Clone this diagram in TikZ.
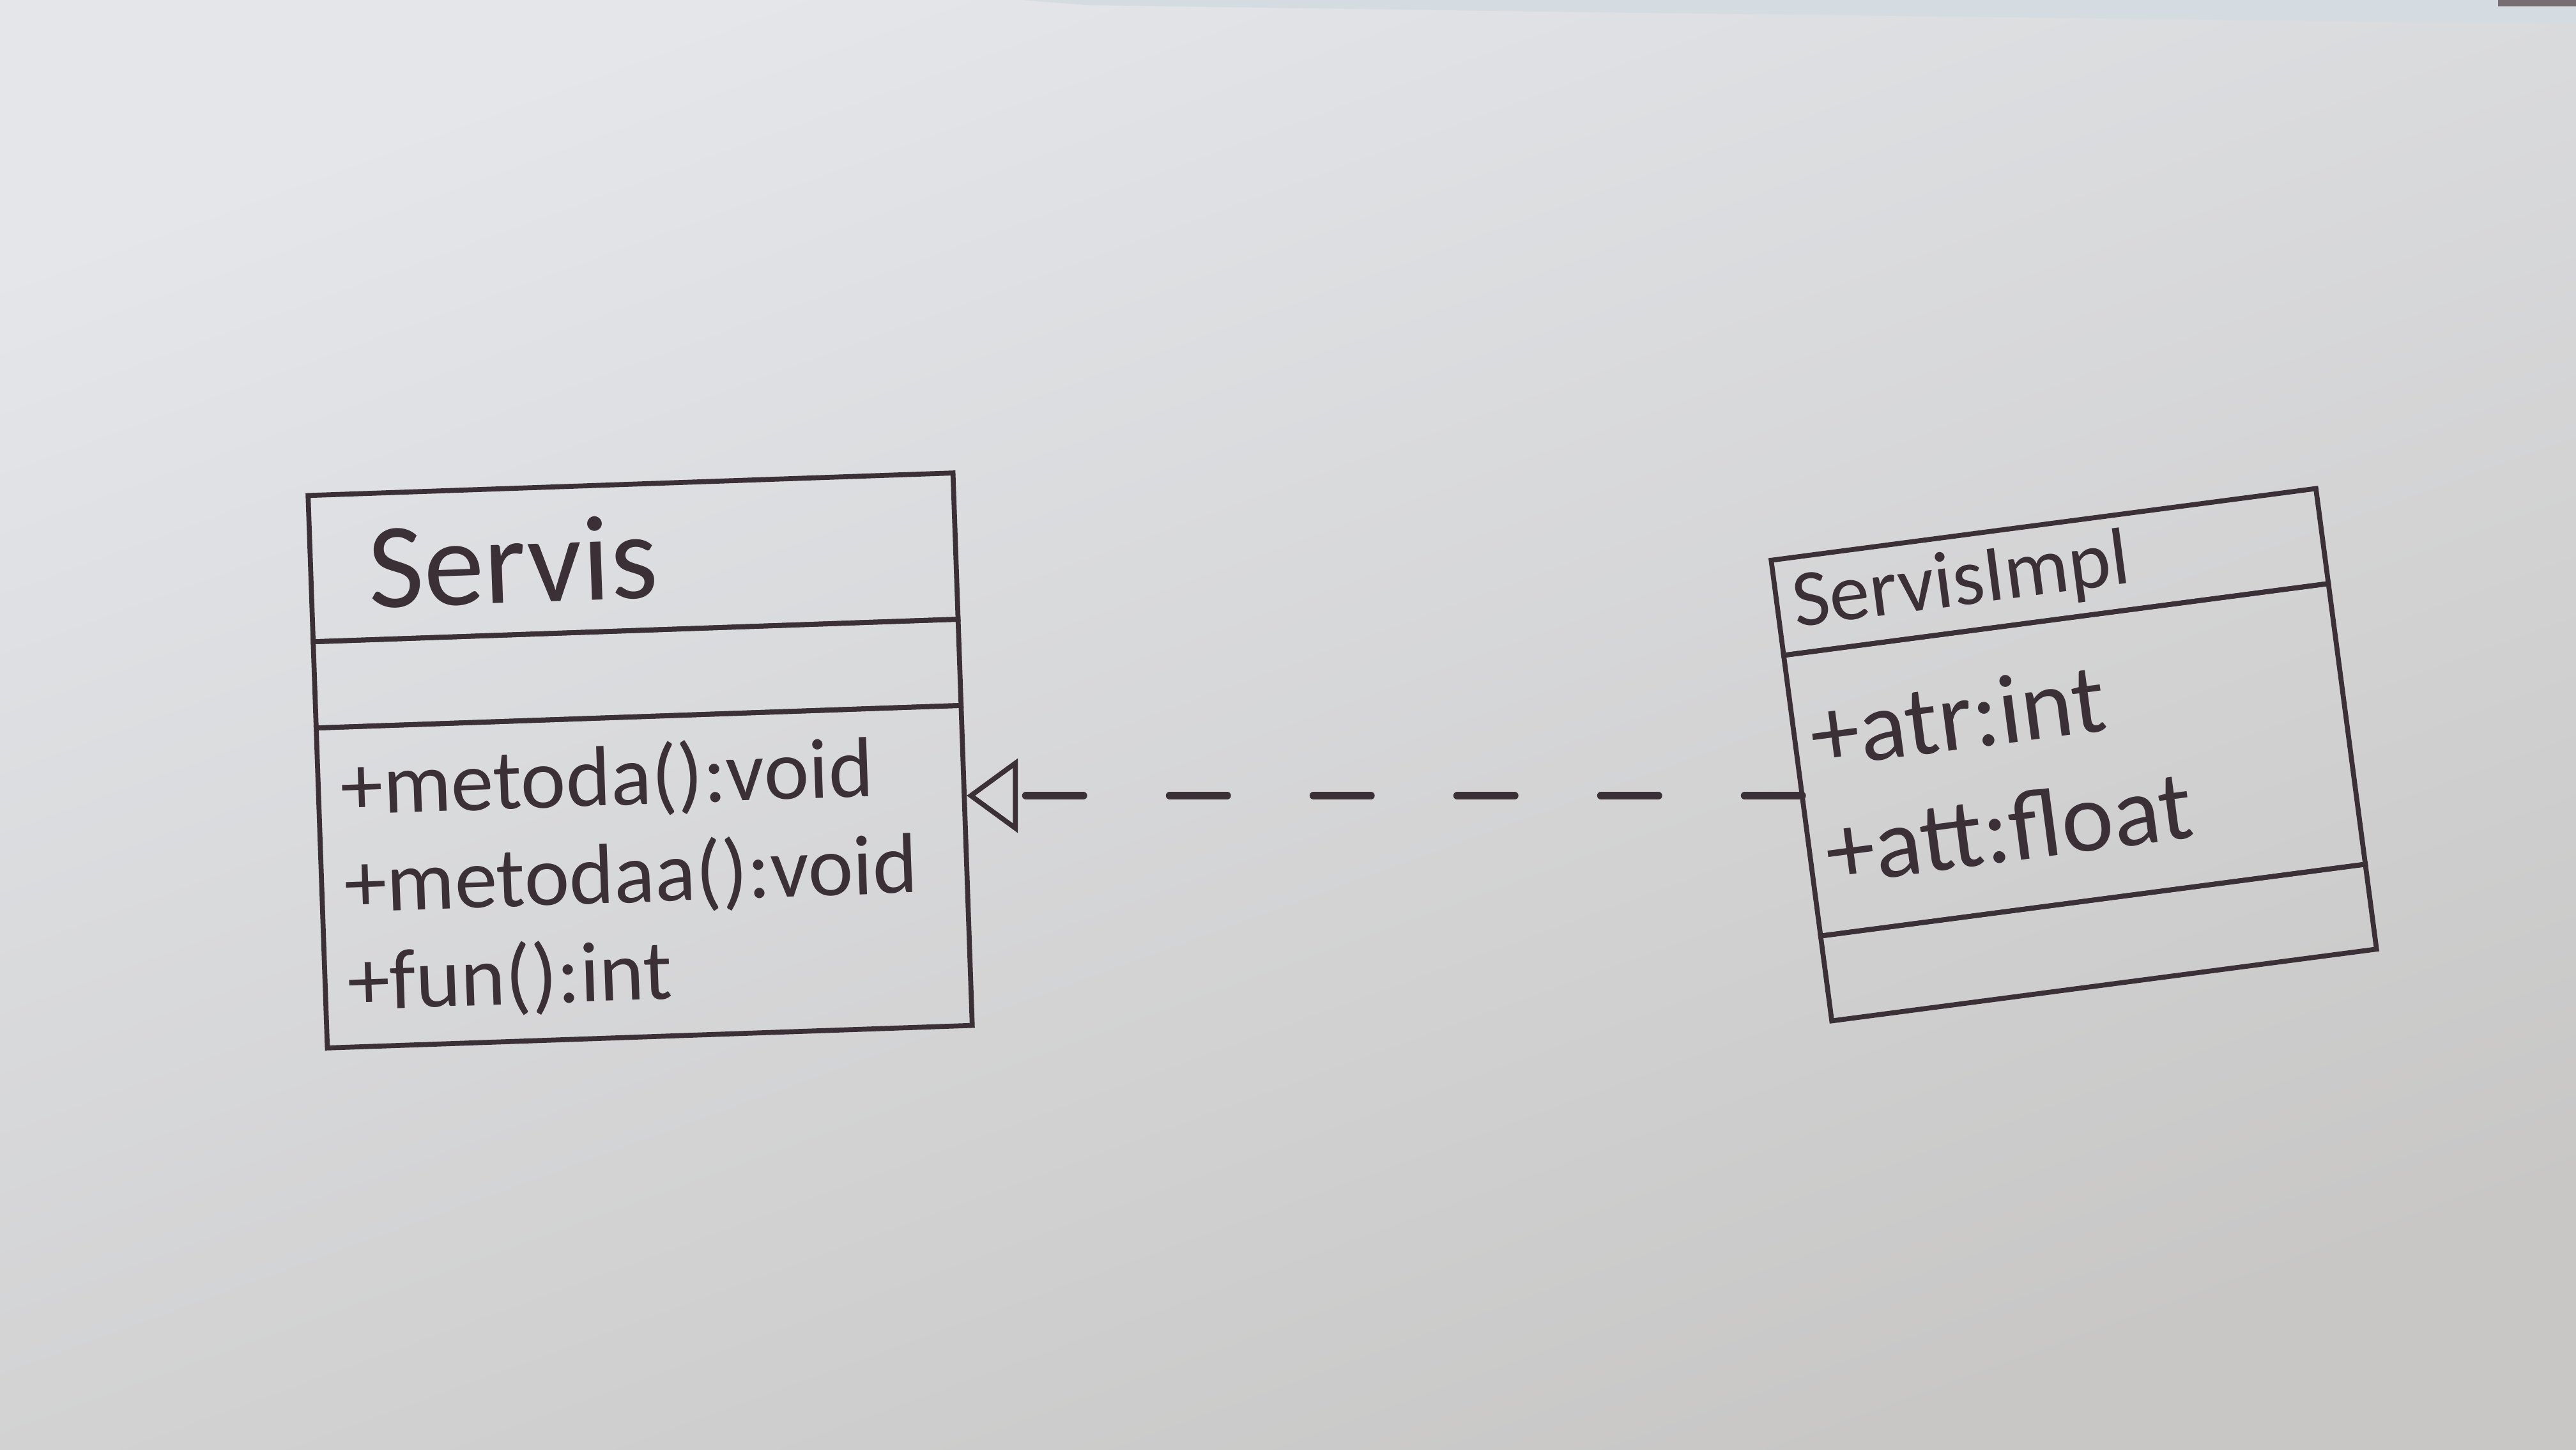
\documentclass[tikz,border=0pt]{standalone}
\usepackage{fontspec}
\setmainfont{Carlito}
\usepackage{tikz}
\usetikzlibrary{arrows.meta,positioning}
\definecolor{ink}{RGB}{58,48,54}
\definecolor{paperTop}{RGB}{228,230,234}
\definecolor{paperBottom}{RGB}{200,199,198}
\definecolor{paperEdge}{RGB}{212,220,226}

\begin{document}
\begin{tikzpicture}[
  part/.style={draw=ink, line width=2.2pt, outer sep=0pt, align=left,
               text=ink, inner ysep=1pt},
  servispart/.style={part, minimum width=10.1cm, text width=9.4cm,
                     inner xsep=0.35cm},
  implpart/.style={part, minimum width=8.6cm, text width=8.1cm,
                   inner xsep=0.25cm},
  realize/.style={draw=ink, line width=3.4pt, line cap=round,
                  dash pattern=on 9mm off 13.5mm, ->},
  >={Triangle[open, length=8mm, width=11.5mm, line width=2.2pt]}]
  % paper
  \useasboundingbox (0,0) rectangle (40.32,22.68);
  \shade[top color=paperTop, bottom color=paperBottom, shading angle=20]
    (0,0) rectangle (40.32,22.68);
  \fill[paperEdge] (16.0,22.68) -- (40.32,22.68) -- (40.32,22.30)
    -- (24.0,22.50) -- (17.0,22.60) -- cycle;
  \fill[ink!70] (39.10,22.68) rectangle (40.32,22.58);

  % interface
  \begin{scope}[shift={(10.02,10.78)}, rotate=2, transform shape]
    \node[servispart, anchor=north, minimum height=2.29cm,
          font=\fontsize{54pt}{56pt}\selectfont] (servisName) at (0,4.325)
          {\hspace*{0.55cm}Servis};
    \node[servispart, minimum height=1.35cm, below=0pt of servisName]
          (servisAttr) {};
    \node[servispart, minimum height=5.01cm, below=0pt of servisAttr,
          font=\fontsize{38pt}{43.5pt}\selectfont] (servisOps)
          {+metoda():void\\+metodaa():void\\+fun():int};
  \end{scope}

  % implementation
  \begin{scope}[shift={(32.46,10.87)}, rotate=7.5, transform shape]
    \node[implpart, anchor=north, minimum height=1.5cm,
          font=\fontsize{36pt}{38pt}\selectfont] (implName) at (0,3.635)
          {ServisImpl};
    \node[implpart, minimum height=4.43cm, below=0pt of implName,
          font=\fontsize{44pt}{52.3pt}\selectfont] (implAttr)
          {+atr:int\\+att:float};
    \node[implpart, minimum height=1.34cm, below=0pt of implAttr]
          (implOps) {};
  \end{scope}

  \draw[realize] (implAttr.west) -- (implAttr.west -| servisOps.east);
\end{tikzpicture}
\end{document}
